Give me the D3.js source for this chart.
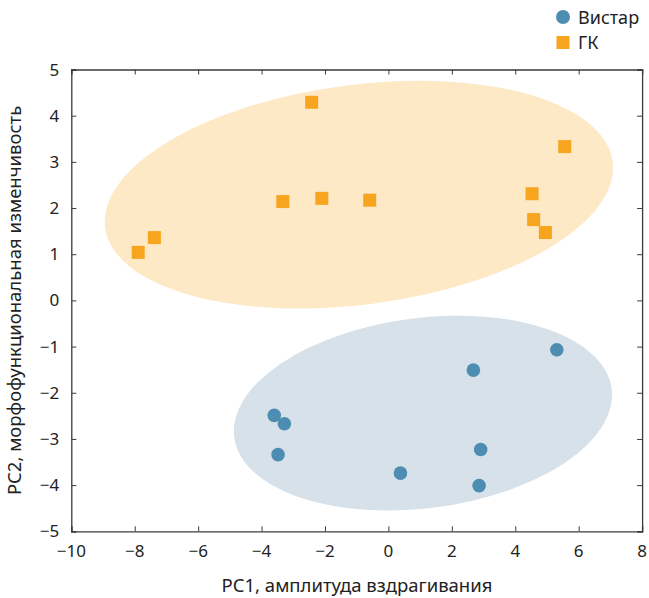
<!DOCTYPE html>
<html>
<head>
<meta charset="utf-8">
<script src="https://cdn.jsdelivr.net/npm/d3@7"></script>
<style>
  body { margin: 0; background: #fff; }
  svg text { font-family: "Noto Sans", sans-serif; fill: #222; }
</style>
</head>
<body>
<svg id="mainSvg" width="649" height="598"></svg>
<script>
// groups and points
let groups = ["Вистар", "ГК"];
let wistarX = [5.31, 2.68, -3.60, -3.28, -3.48, 0.38, 2.91, 2.86];
let wistarY = [-1.07, -1.51, -2.49, -2.67, -3.34, -3.74, -3.23, -4.01];
let gkX = [-2.42, 5.56, 4.53, 4.58, 4.95, -3.33, -2.10, -0.59, -7.38, -7.89];
let gkY = [4.29, 3.33, 2.31, 1.75, 1.47, 2.14, 2.21, 2.17, 1.36, 1.04];

// group ellipses: centre, half-widths (in axis units), tilt in degrees
let ellCx = [1.09, -0.93];
let ellCy = [-2.44, 2.29];
let ellRx = [6.0, 8.07];
let ellRy = [2.06, 2.38];
let ellTilt = [-7.3, -7.4];

let xTicks = [-10, -8, -6, -4, -2, 0, 2, 4, 6, 8];
let yTicks = [-5, -4, -3, -2, -1, 0, 1, 2, 3, 4, 5];

let dotColor = ["#4e8db2", "#f7a41f"];
let fillColor = ["#d6e1ea", "#fde9c6"];

let svg = d3.select('#mainSvg');
let mLeft = 71.3, mRight = 642.1, mTop = 69.5, mBottom = 531.3;

let x = d3.scaleLinear().domain([-10, 8]).range([mLeft, mRight]);
let y = d3.scaleLinear().domain([-5, 5]).range([mBottom, mTop]);
let fmt = d3.format('d');

// ellipses
let ell = svg.append('g');
groups.forEach((g, i) => {
  let cx = x(ellCx[i]), cy = y(ellCy[i]);
  ell.append('ellipse')
    .attr('cx', cx)
    .attr('cy', cy)
    .attr('rx', x(ellCx[i] + ellRx[i]) - cx)
    .attr('ry', y(ellCy[i] - ellRy[i]) - cy)
    .attr('transform', `rotate(${ellTilt[i]},${cx},${cy})`)
    .attr('fill', fillColor[i]);
});

// frame axes, ticks inward
let axisColor = '#3a3a3a';
let ax = [
  d3.axisBottom(x).tickValues(xTicks).tickSize(-5).tickFormat(''),
  d3.axisTop(x).tickValues(xTicks).tickSize(-5).tickFormat(''),
  d3.axisLeft(y).tickValues(yTicks).tickSize(-5).tickFormat(''),
  d3.axisRight(y).tickValues(yTicks).tickSize(-5).tickFormat('')
];
let pos = [`translate(0,${mBottom})`, `translate(0,${mTop})`, `translate(${mLeft},0)`, `translate(${mRight},0)`];
ax.forEach((a, i) => {
  let g = svg.append('g').attr('transform', pos[i]).call(a);
  g.select('.domain').attr('stroke', axisColor).attr('stroke-width', 1.3);
  g.selectAll('.tick line').attr('stroke', axisColor).attr('stroke-width', 1);
});

// tick labels
svg.append('g').selectAll('text')
  .data(xTicks).join('text')
  .attr('x', d => x(d))
  .attr('y', mBottom + 26)
  .attr('text-anchor', 'middle')
  .style('font-size', '17px')
  .text(d => fmt(d));
svg.append('g').selectAll('text')
  .data(yTicks).join('text')
  .attr('x', mLeft - 12)
  .attr('y', d => y(d) + 6)
  .attr('text-anchor', 'end')
  .style('font-size', '17px')
  .text(d => fmt(d));

// points
svg.append('g').selectAll('circle')
  .data(wistarX).join('circle')
  .attr('cx', d => x(d))
  .attr('cy', (d, i) => y(wistarY[i]))
  .attr('r', 6.8)
  .attr('fill', dotColor[0]);
let sq = 13;
svg.append('g').selectAll('rect')
  .data(gkX).join('rect')
  .attr('x', d => x(d) - sq / 2)
  .attr('y', (d, i) => y(gkY[i]) - sq / 2)
  .attr('width', sq)
  .attr('height', sq)
  .attr('fill', dotColor[1]);

// axis titles
svg.append('text')
  .attr('x', 357)
  .attr('y', 592)
  .attr('text-anchor', 'middle')
  .style('font-size', '18.5px')
  .text('PC1, амплитуда вздрагивания');
svg.append('text')
  .attr('transform', `translate(21,${(mTop + mBottom) / 2}) rotate(-90)`)
  .attr('text-anchor', 'middle')
  .style('font-size', '18.5px')
  .text('PC2, морфофункциональная изменчивость');

// legend
let legend = svg.append('g').attr('transform', 'translate(563,17)');
legend.append('circle').attr('cx', 0).attr('cy', 0).attr('r', 7).attr('fill', dotColor[0]);
legend.append('rect').attr('x', -6.5).attr('y', 25.5 - 6.5).attr('width', sq).attr('height', sq).attr('fill', dotColor[1]);
legend.selectAll('text')
  .data(groups).join('text')
  .attr('x', 15)
  .attr('y', (d, i) => i * 25.5 + 6.5)
  .style('font-size', '18px')
  .text(d => d);
</script>
</body>
</html>
